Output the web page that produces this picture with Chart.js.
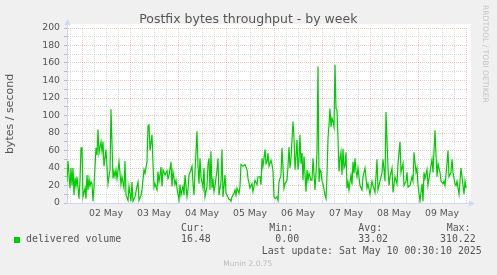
<!DOCTYPE html>
<html><head><meta charset="utf-8">
<script src="https://cdn.jsdelivr.net/npm/chart.js@4/dist/chart.umd.min.js"></script>
<style>html,body{margin:0;padding:0;background:#F0F0F0;}#wrap{width:497px;height:275px;position:relative;}</style>
</head><body><div id="wrap"><canvas id="c" width="497" height="275"></canvas></div>
<script>
// hours since 02 May 00:00
const hours = [-7.5,-7,-6,-5.5,-5,-4.5,-4,-3.5,-3,-2.5,-1.5,-1,-0.5,0,0.5,1.5,2,2.5,3,3.5,4,4.5,5,5.5,6,
7,7.5,8,8.5,9.5,10,10.5,11,12,13,14,14.5,15.5,16,16.5,17,17.5,18.5,19.5,20,21,21.5,22,23,23.5,24.5,25,25.5,
26.5,27.5,28,28.5,29.5,30,31,31.5,32.5,33,33.5,34,35,35.5,36,36.5,37.5,38,38.5,39.5,40,40.5,41.5,42.5,43,43.5,44.5,45,45.5,46.5,47,47.5,
48.5,49,49.5,50.5,51,51.5,52.5,53,53.5,54.5,55,55.5,56,56.5,57.5,58,58.5,59,59.5,60.5,61,61.5,62.5,63,63.5,64,64.5,65,65.5,66,66.5,67.5,68,68.5,
69.5,70,70.5,71.5,72,72.5,73.5,74,74.5,75,76,76.5,77,77.5,78.5,79,79.5,80.5,81.5,82.5,83,84,
85,85.5,86.5,87.5,88,89,89.5,90,90.5,91.5,92,92.5,93,93.5,94.5,95,95.5,96,96.5,97.5,98,98.5,99.5,100,100.5,101,101.5,
102.5,103,103.5,104,104.5,105.5,106,106.5,107,107.5,108,108.5,109,109.5,110,110.5,111,112,112.5,113,113.5,114.5,115,115.5,116.5,117,
117.5,118,118.5,119,119.5,120,120.5,121.5,122,122.5,123,123.5,124,124.5,125,125.5,126,126.5,127,127.5,128,128.5,129,129.5,130,130.5,131,131.5,132,132.5,133,133.5,134,134.5,135,135.5,136,136.5,137,137.5,138,
139,140,140.5,141.5,142.5,143,144,145,145.5,146.5,147.5,148,149,150,150.5,151.5,152,153,153.5,154,155,155.5,156.5,157.5,158,159,159.5,160.5,161,162,162.5,163,
164,165,165.5,166,167,167.5,168,169,170,170.5,171,171.5,172.5,173,174,175,175.5,176.5,177,177.5,178,179,179.5,180.5,181,181.5,182.5,183,183.5,184.5,185,185.5,186.5,187,187.5,188.5,189,189.5,190.5,191,191.5,192];
const delivered = [24,48,17,40,20,40,9,29,19,30,5,26,63,63,7,17,5,32,15,28,19,24,22,2,19,
63,55,84,57,70,59,70,42,61,22,38,107,28,36,30,38,28,47,21,30,17,48,9,3,19,2,24,2,
7,19,24,3,9,15,38,34,47,88,89,60,78,44,18,22,15,36,24,41,19,38,32,37,28,31,47,19,36,21,26,17,
3,21,9,19,9,32,7,15,32,38,42,22,9,36,82,42,22,51,30,17,40,7,19,44,51,15,59,17,26,13,19,38,51,9,
24,61,7,32,11,9,4,4,2,7,11,15,9,17,11,19,44,42,44,38,28,17,
22,13,26,21,30,30,21,51,42,61,45,47,57,42,49,44,36,7,5,7,3,24,32,63,40,17,22,
26,42,64,40,51,93,74,38,53,72,38,49,78,45,57,26,53,13,38,26,34,26,26,51,15,34,
58,156,24,38,36,25,22,9,5,32,74,89,108,87,97,93,87,158,108,106,74,36,51,58,32,62,40,43,58,17,24,15,24,32,21,47,34,51,36,30,40,
20,15,30,40,17,22,10,25,20,12,50,15,25,35,50,25,104,40,20,30,40,12,30,22,45,70,35,45,20,25,35,18,
20,30,25,58,35,40,20,2,22,2,35,28,38,20,35,50,35,83,55,30,45,35,25,22,25,20,45,60,30,35,50,35,22,20,25,10,25,40,20,10,25,17];
const dayLabelHours = [12,36,60,84,108,132,156,180];
const dayLabels = ['02 May','03 May','04 May','05 May','06 May','07 May','08 May','09 May'];
const statNames = ['Cur:','Min:','Avg:','Max:'];
const statValues = ['16.48','0.00','33.02','310.22'];
const seriesName = 'delivered volume';
const titleText = 'Postfix bytes throughput - by week';
const yTitle = 'bytes / second';
const lastUpdate = 'Last update: Sat May 10 00:30:10 2025';
const version = 'Munin 2.0.75';
const sideText = 'RRDTOOL / TOBI OETIKER';

const MAJOR = 'rgba(230,130,130,0.45)';
const MINOR = 'rgba(175,175,175,0.45)';
const AXIS = '#CFD6F8';
const FONT = '#555555';

const munin = {
  id: 'munin',
  beforeDraw(chart) {
    const {ctx, chartArea: a} = chart;
    ctx.save();
    ctx.fillStyle = '#F0F0F0';
    ctx.fillRect(0, 0, chart.width, chart.height);
    ctx.fillStyle = '#FFFFFF';
    ctx.fillRect(a.left, a.top - 4, a.right - a.left + 4, a.bottom - a.top + 4);
    ctx.restore();
  },
  afterDraw(chart) {
    const {ctx, chartArea: a} = chart;
    ctx.save();
    ctx.strokeStyle = AXIS; ctx.fillStyle = AXIS; ctx.lineWidth = 1;
    ctx.beginPath();
    ctx.moveTo(a.left + 0.5, a.top); ctx.lineTo(a.left + 0.5, a.top - 5);
    ctx.moveTo(a.right, a.bottom + 0.5); ctx.lineTo(a.right + 4, a.bottom + 0.5);
    ctx.stroke();
    ctx.beginPath();
    ctx.moveTo(a.left + 0.5, a.top - 9); ctx.lineTo(a.left - 2.5, a.top - 3); ctx.lineTo(a.left + 3.5, a.top - 3); ctx.closePath(); ctx.fill();
    ctx.beginPath();
    ctx.moveTo(a.right + 8, a.bottom + 0.5); ctx.lineTo(a.right + 2, a.bottom - 2.5); ctx.lineTo(a.right + 2, a.bottom + 3.5); ctx.closePath(); ctx.fill();

    ctx.fillStyle = FONT;
    ctx.font = '12.5px "DejaVu Sans"';
    ctx.textAlign = 'center'; ctx.textBaseline = 'middle';
    ctx.fillText(titleText, 248.3, 19.5);
    ctx.save();
    ctx.translate(10.5, 114);
    ctx.rotate(-Math.PI / 2);
    ctx.font = '11px "DejaVu Sans"';
    ctx.fillText(yTitle, 0, 0);
    ctx.restore();
    ctx.save();
    ctx.translate(484.5, 5);
    ctx.rotate(Math.PI / 2);
    ctx.font = '7.6px "DejaVu Sans"';
    ctx.fillStyle = '#C4C4C4';
    ctx.textAlign = 'left';
    ctx.fillText(sideText, 0, 0);
    ctx.restore();
    ctx.fillStyle = '#00CC00';
    ctx.fillRect(14, 237, 6, 6);
    ctx.fillStyle = FONT;
    ctx.font = '9.9px "DejaVu Sans Mono"';
    ctx.textAlign = 'left';
    ctx.fillText(seriesName, 26, 239.5);
    const nameX = [181, 269.3, 358.3, 446.7];
    const valX = [181, 275.3, 358.3, 440];
    statNames.forEach((s, i) => ctx.fillText(s, nameX[i], 228.3));
    statValues.forEach((s, i) => ctx.fillText(s, valX[i], 239.5));
    ctx.fillText(lastUpdate, 261.7, 251.3);
    ctx.font = '7.5px "DejaVu Sans"';
    ctx.fillStyle = '#BBBBBB';
    ctx.fillText(version, 223.3, 264.5);
    ctx.restore();
  }
};

new Chart(document.getElementById('c'), {
  type: 'line',
  data: {
    datasets: [{
      label: seriesName,
      data: hours.map((h, i) => ({x: h, y: delivered[i]})),
      borderColor: '#00CC00',
      borderWidth: 1.2,
      pointRadius: 0,
      tension: 0,
      fill: false
    }]
  },
  options: {
    responsive: false,
    animation: false,
    devicePixelRatio: 1,
    layout: {padding: {left: 0, right: 30, top: 28, bottom: 52}},
    plugins: {legend: {display: false}, tooltip: {enabled: false}, title: {display: false}},
    scales: {
      x: {
        type: 'linear', min: -7.5, max: 192.5,
        afterFit(s) { s.height = 20; },
        ticks: {
          stepSize: 6, includeBounds: false, autoSkip: false, maxRotation: 0,
          padding: 5, color: FONT, font: {family: 'DejaVu Sans', size: 9.3},
          callback: v => { const k = dayLabelHours.indexOf(v); return k >= 0 ? dayLabels[k] : ''; }
        },
        grid: {
          drawTicks: false, lineWidth: 1,
          color: c => (c.tick && c.tick.value % 24 === 0) ? MAJOR : MINOR
        },
        border: {display: true, color: AXIS, width: 1, dash: [1, 1]}
      },
      y: {
        min: 0, max: 200,
        afterFit(s) { s.width = 67; },
        ticks: {
          stepSize: 10, autoSkip: false, padding: 4, color: FONT,
          font: {family: 'DejaVu Sans', size: 9.3},
          callback: v => (v % 20 === 0 ? String(v) : '')
        },
        grid: {
          drawTicks: true, tickLength: 3, tickColor: '#BBBBBB', lineWidth: 1,
          color: c => (c.tick && c.tick.value % 20 === 0) ? MAJOR : MINOR
        },
        border: {display: true, color: AXIS, width: 1, dash: [1, 1]}
      }
    }
  },
  plugins: [munin]
});
</script></body></html>
